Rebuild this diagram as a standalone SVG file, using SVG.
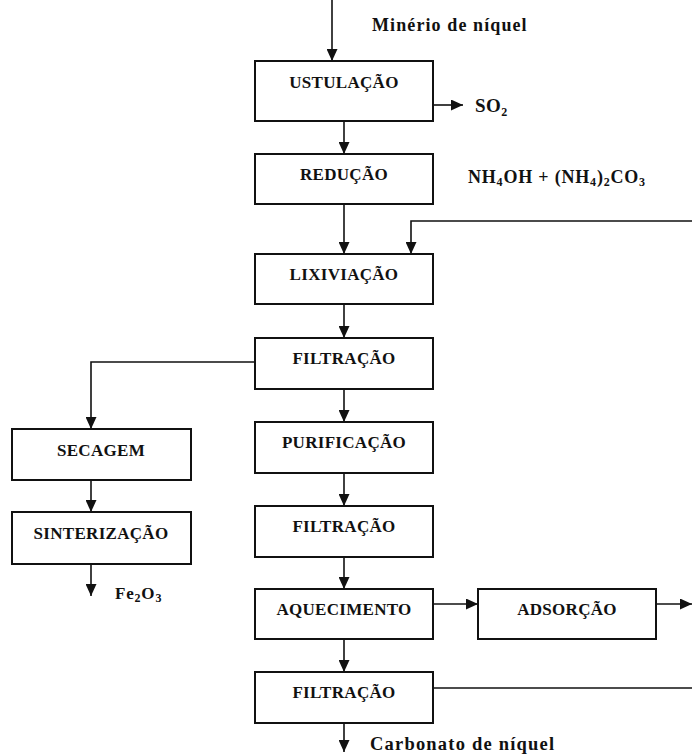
<svg xmlns="http://www.w3.org/2000/svg" width="692" height="755" viewBox="0 0 692 755">
<defs>
<marker id="ah" markerUnits="userSpaceOnUse" markerWidth="13" markerHeight="11" refX="12" refY="5.5" orient="auto">
<path d="M0,0 L12,5.5 L0,11 z" fill="#111"/>
</marker>
<style>
.box{fill:#fff;stroke:#111;stroke-width:2}
.lbl{font-family:"Liberation Serif","Times New Roman",serif;font-weight:bold;font-size:17px;letter-spacing:0.3px;fill:#111;text-anchor:middle}
.txt{font-family:"Liberation Serif","Times New Roman",serif;font-weight:bold;fill:#111}
.ln{fill:none;stroke:#111;stroke-width:1.6}
.arr{marker-end:url(#ah)}
</style>
</defs>
<rect width="692" height="755" fill="#fff"/>
<g id="connectors">
<line class="ln arr" x1="332" y1="0" x2="332" y2="61"/>
<line class="ln arr" x1="344" y1="121" x2="344" y2="154"/>
<line class="ln arr" x1="433" y1="105" x2="463" y2="105"/>
<line class="ln arr" x1="344" y1="204" x2="344" y2="254"/>
<path class="ln arr" d="M692,221 H411 V254"/>
<line class="ln arr" x1="344" y1="304" x2="344" y2="338"/>
<line class="ln arr" x1="344" y1="389" x2="344" y2="422"/>
<path class="ln arr" d="M255,362 H91 V429"/>
<line class="ln arr" x1="91" y1="480" x2="91" y2="512"/>
<line class="ln arr" x1="91" y1="564" x2="91" y2="596"/>
<line class="ln arr" x1="344" y1="473" x2="344" y2="506"/>
<line class="ln arr" x1="344" y1="557" x2="344" y2="589"/>
<line class="ln arr" x1="344" y1="639" x2="344" y2="672"/>
<line class="ln arr" x1="433" y1="604" x2="478" y2="604"/>
<line class="ln arr" x1="656" y1="604" x2="692" y2="604"/>
<line class="ln" x1="433" y1="688" x2="692" y2="688"/>
<line class="ln arr" x1="344" y1="723" x2="344" y2="752"/>
</g>
<g id="ustulacao"><rect class="box" x="255" y="61" width="178" height="60"/><text class="lbl" x="344" y="88">USTULAÇÃO</text></g>
<g id="reducao"><rect class="box" x="255" y="154" width="178" height="50"/><text class="lbl" x="344" y="180">REDUÇÃO</text></g>
<g id="lixiviacao"><rect class="box" x="255" y="254" width="178" height="50"/><text class="lbl" x="344" y="280">LIXIVIAÇÃO</text></g>
<g id="filtracao1"><rect class="box" x="255" y="338" width="178" height="51"/><text class="lbl" x="344" y="364">FILTRAÇÃO</text></g>
<g id="purificacao"><rect class="box" x="255" y="422" width="178" height="51"/><text class="lbl" x="344" y="448">PURIFICAÇÃO</text></g>
<g id="filtracao2"><rect class="box" x="255" y="506" width="178" height="51"/><text class="lbl" x="344" y="532">FILTRAÇÃO</text></g>
<g id="aquecimento"><rect class="box" x="255" y="589" width="178" height="50"/><text class="lbl" x="344" y="615">AQUECIMENTO</text></g>
<g id="filtracao3"><rect class="box" x="255" y="672" width="178" height="51"/><text class="lbl" x="344" y="698">FILTRAÇÃO</text></g>
<g id="secagem"><rect class="box" x="12" y="429" width="179" height="51"/><text class="lbl" x="101" y="456">SECAGEM</text></g>
<g id="sinterizacao"><rect class="box" x="12" y="512" width="179" height="52"/><text class="lbl" x="101" y="539">SINTERIZAÇÃO</text></g>
<g id="adsorcao"><rect class="box" x="478" y="589" width="178" height="50"/><text class="lbl" x="567" y="615">ADSORÇÃO</text></g>
<g id="labels">
<text class="txt" x="372" y="31" font-size="18" letter-spacing="1.1">Minério de níquel</text>
<text class="txt" x="475" y="112" font-size="19" letter-spacing="0.5">SO<tspan font-size="12" dy="4">2</tspan></text>
<text class="txt" x="468" y="183" font-size="18" letter-spacing="0.8">NH<tspan font-size="12" dy="3">4</tspan><tspan dy="-3">OH + (NH</tspan><tspan font-size="12" dy="3">4</tspan><tspan dy="-3">)</tspan><tspan font-size="12" dy="3">2</tspan><tspan dy="-3">CO</tspan><tspan font-size="12" dy="3">3</tspan></text>
<text class="txt" x="115" y="599" font-size="17" letter-spacing="0.8">Fe<tspan font-size="12" dy="3">2</tspan><tspan dy="-3">O</tspan><tspan font-size="12" dy="3">3</tspan></text>
<text class="txt" x="370" y="750" font-size="18.5" letter-spacing="1.2">Carbonato de níquel</text>
</g>
</svg>
